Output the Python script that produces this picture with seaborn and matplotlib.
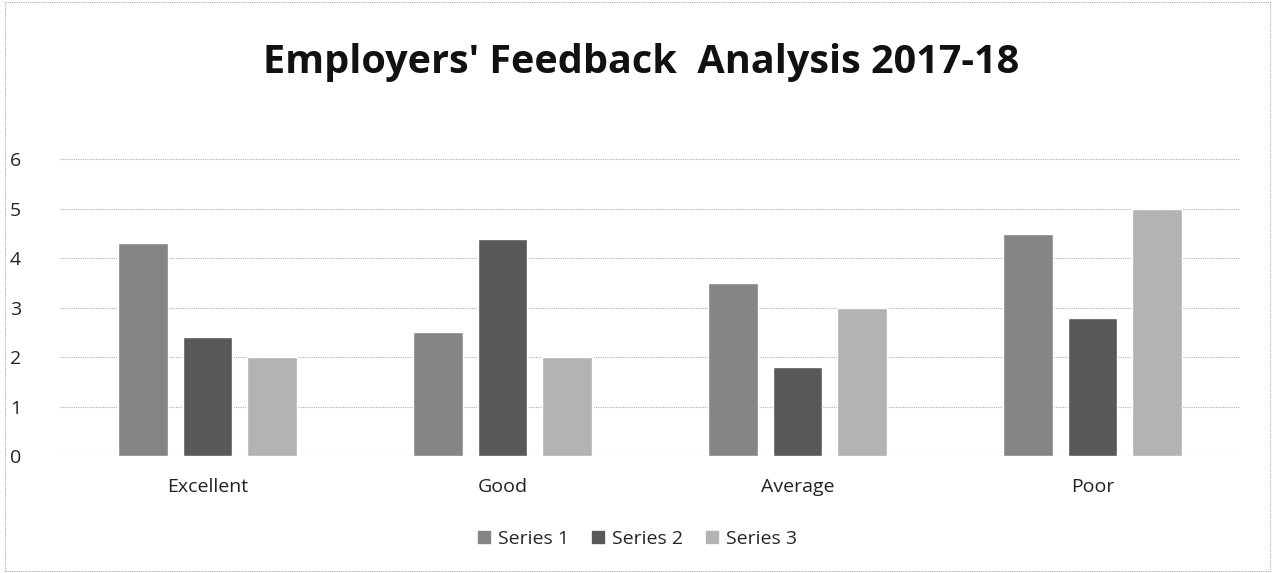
import matplotlib
matplotlib.use("Agg")
import matplotlib.pyplot as plt
import seaborn as sns
import pandas as pd
from matplotlib.patches import Rectangle

categories = ["Excellent", "Good", "Average", "Poor"]
series_names = ["Series 1", "Series 2", "Series 3"]
series1 = [4.3, 2.5, 3.5, 4.5]
series2 = [2.4, 4.4, 1.8, 2.8]
series3 = [2.0, 2.0, 3.0, 5.0]
yticks = [0, 1, 2, 3, 4, 5, 6]
title = "Employers' Feedback  Analysis 2017-18"

rows = []
for name, vals in zip(series_names, [series1, series2, series3]):
    for c, v in zip(categories, vals):
        rows.append({"Category": c, "Series": name, "Value": v})
df = pd.DataFrame(rows)

sns.set_theme(style="white")
plt.rcParams['font.family'] = ['Open Sans', 'DejaVu Sans']

fig = plt.figure(figsize=(12.75, 5.73), dpi=100)
ax = fig.add_axes([60/1275, 1 - 456/573, 1180/1275, 298/573])

palette = {"Series 1": "#858585", "Series 2": "#585858", "Series 3": "#b3b3b3"}
sns.barplot(data=df, x="Category", y="Value", hue="Series", order=categories,
            hue_order=series_names, palette=palette, width=0.66, gap=0.23,
            saturation=1, ax=ax, legend=False)

ax.set_xlim(-0.5, 3.5)
ax.set_ylim(0, 6.03)
ax.set_yticks(yticks)
ax.yaxis.grid(True, linestyle=(0, (1, 1)), color="#b0b0b0", linewidth=0.8)
ax.set_axisbelow(True)
for s in ax.spines.values():
    s.set_visible(False)
ax.set_xlabel("")
ax.set_ylabel("")
ax.tick_params(axis="both", length=0, labelsize=14, colors="#222222")
ax.tick_params(axis="x", pad=16)
ax.tick_params(axis="y", pad=28)

fig.text(0.503, 1 - 62/573, title, ha="center", va="center",
         fontsize=28.5, fontweight="bold", color="#111111")

handles = [Rectangle((0, 0), 1, 1, color=palette[n]) for n in series_names]
fig.legend(handles, series_names, loc="center", bbox_to_anchor=(0.5, 1 - 539/573),
           ncol=3, frameon=False, fontsize=14, handlelength=0.6, handleheight=0.6,
           columnspacing=1.2, handletextpad=0.4)

border = Rectangle((0.004, 0.004), 0.992, 0.992, transform=fig.transFigure,
                   fill=False, edgecolor="#aaaaaa", linestyle=(0, (1, 1)), linewidth=0.8)
fig.patches.append(border)

fig.savefig("out.png", dpi=100)
